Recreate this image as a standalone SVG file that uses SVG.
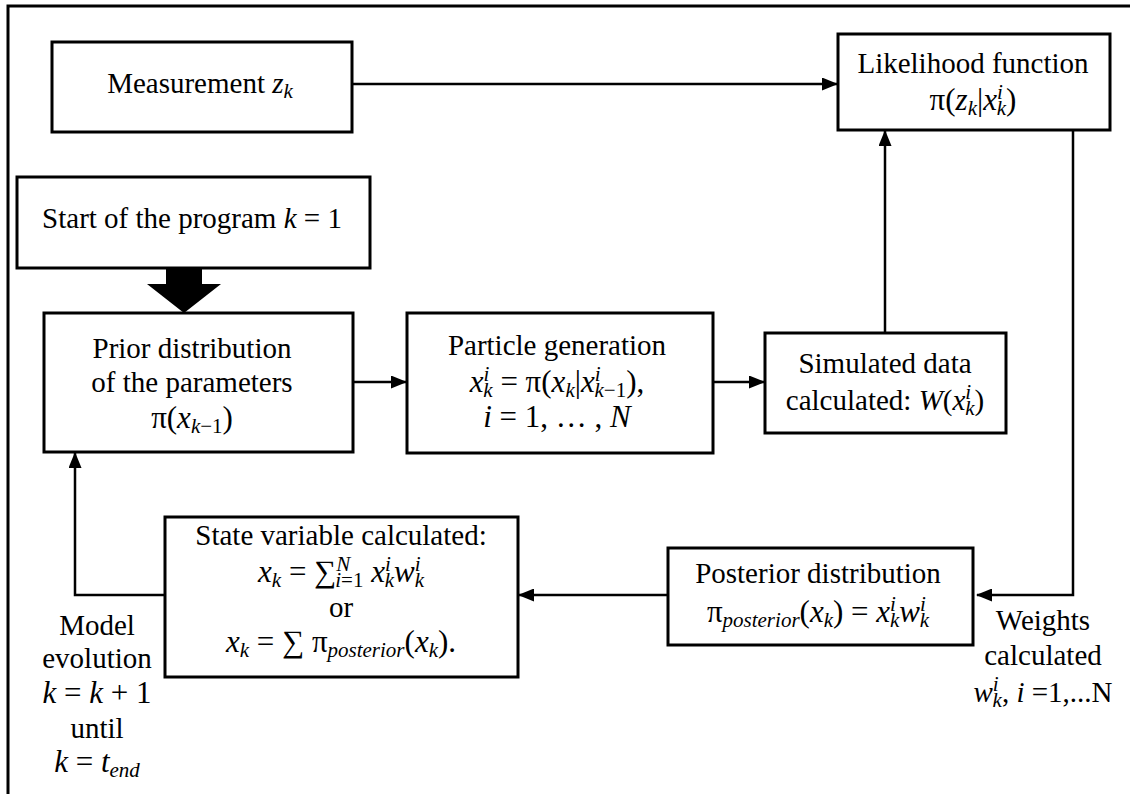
<svg xmlns="http://www.w3.org/2000/svg" width="1130" height="794" viewBox="0 0 1130 794">
<defs>
<style>
.box{fill:#fff;stroke:#000;stroke-width:3}
.ln{fill:none;stroke:#000;stroke-width:2.5}
text{font-family:"Liberation Serif","Times New Roman",serif;font-size:29px;fill:#000;text-anchor:middle}
text.eq{font-size:31px}
.m{font-style:italic}
.s{font-style:italic;font-size:21px}
.sn{font-size:21px}
</style>
<marker id="ah" markerWidth="16" markerHeight="13" refX="15" refY="6.5" orient="auto" markerUnits="userSpaceOnUse">
<path d="M0,0 L16,6.5 L0,13 Z" fill="#000"/>
</marker>
</defs>
<rect width="1130" height="794" fill="#fff"/>
<path d="M8,794 V6 H1130" fill="none" stroke="#000" stroke-width="3"/>

<g id="connectors">
<path class="ln" d="M352,84 H837" marker-end="url(#ah)"/>
<path class="ln" d="M885,333 V131" marker-end="url(#ah)"/>
<path class="ln" d="M1073,131 V595 H977" marker-end="url(#ah)"/>
<path class="ln" d="M668,595 H519" marker-end="url(#ah)"/>
<path class="ln" d="M165,595 H75 V453" marker-end="url(#ah)"/>
<path class="ln" d="M353,382 H406" marker-end="url(#ah)"/>
<path class="ln" d="M713,382 H764" marker-end="url(#ah)"/>
<polygon points="166,268 202,268 202,284 221,284 184,313 147,284 166,284" fill="#000"/>
</g>

<g id="measurement">
<rect class="box" x="52" y="42" width="300" height="90"/>
<text x="200" y="93">Measurement <tspan class="m">z</tspan><tspan class="s" dy="5">k</tspan></text>
</g>

<g id="likelihood">
<rect class="box" x="838" y="34" width="272" height="96"/>
<text x="973" y="73">Likelihood function</text>
<text class="eq" x="973" y="110">π(<tspan class="m">z</tspan><tspan class="s" dy="5">k</tspan><tspan dy="-5">|</tspan><tspan class="m">x</tspan><tspan class="s" dy="-11">i</tspan><tspan class="s" dx="-6" dy="16">k</tspan><tspan dy="-5">)</tspan></text>
</g>

<g id="start">
<rect class="box" x="17" y="177" width="353" height="91"/>
<text x="192" y="228">Start of the program <tspan class="m">k</tspan> = 1</text>
</g>

<g id="prior">
<rect class="box" x="44" y="313" width="309" height="139"/>
<text x="192" y="358">Prior distribution</text>
<text x="192" y="392">of the parameters</text>
<text class="eq" x="192" y="428">π(<tspan class="m">x</tspan><tspan class="s" dy="5">k</tspan><tspan class="sn">−1</tspan><tspan dy="-5">)</tspan></text>
</g>

<g id="particle">
<rect class="box" x="407" y="313" width="306" height="140"/>
<text x="557" y="355">Particle generation</text>
<text class="eq" x="557" y="392"><tspan class="m">x</tspan><tspan class="s" dy="-11">i</tspan><tspan class="s" dx="-6" dy="16">k</tspan><tspan dy="-5"> = π(</tspan><tspan class="m">x</tspan><tspan class="s" dy="5">k</tspan><tspan dy="-5">|</tspan><tspan class="m">x</tspan><tspan class="s" dy="-11">i</tspan><tspan class="s" dx="-6" dy="16">k</tspan><tspan class="sn">−1</tspan><tspan dy="-5">),</tspan></text>
<text class="eq" x="557" y="427"><tspan class="m">i</tspan> = 1, … , <tspan class="m">N</tspan></text>
</g>

<g id="simulated">
<rect class="box" x="765" y="333" width="241" height="100"/>
<text x="885" y="373">Simulated data</text>
<text x="885" y="410">calculated: <tspan class="m">W</tspan>(<tspan class="m">x</tspan><tspan class="s" dy="-11">i</tspan><tspan class="s" dx="-6" dy="16">k</tspan><tspan dy="-5">)</tspan></text>
</g>

<g id="posterior">
<rect class="box" x="668" y="548" width="305" height="97"/>
<text x="818" y="583">Posterior distribution</text>
<text class="eq" x="818" y="622">π<tspan class="s" dy="5">posterior</tspan><tspan dy="-5">(</tspan><tspan class="m">x</tspan><tspan class="s" dy="5">k</tspan><tspan dy="-5">) = </tspan><tspan class="m">x</tspan><tspan class="s" dy="-11">i</tspan><tspan class="s" dx="-6" dy="16">k</tspan><tspan class="m" dy="-5">w</tspan><tspan class="s" dy="-11">i</tspan><tspan class="s" dx="-6" dy="16">k</tspan></text>
</g>

<g id="state">
<rect class="box" x="165" y="517" width="353" height="160"/>
<text x="341" y="545">State variable calculated:</text>
<text class="eq" x="341" y="582"><tspan class="m">x</tspan><tspan class="s" dy="5">k</tspan><tspan dy="-5"> = ∑</tspan><tspan class="s" dy="-11">N</tspan><tspan class="s" dx="-15" dy="16">i</tspan><tspan class="sn">=1</tspan><tspan class="m" dy="-5"> x</tspan><tspan class="s" dy="-11">i</tspan><tspan class="s" dx="-6" dy="16">k</tspan><tspan class="m" dy="-5">w</tspan><tspan class="s" dy="-11">i</tspan><tspan class="s" dx="-6" dy="16">k</tspan></text>
<text x="341" y="617">or</text>
<text class="eq" x="341" y="652"><tspan class="m">x</tspan><tspan class="s" dy="5">k</tspan><tspan dy="-5"> = ∑ π</tspan><tspan class="s" dy="5">posterior</tspan><tspan dy="-5">(</tspan><tspan class="m">x</tspan><tspan class="s" dy="5">k</tspan><tspan dy="-5">).</tspan></text>
</g>

<g id="model-evolution">
<text x="97" y="635">Model</text>
<text x="97" y="668">evolution</text>
<text class="eq" x="97" y="703"><tspan class="m">k</tspan> = <tspan class="m">k</tspan> + 1</text>
<text x="97" y="738">until</text>
<text class="eq" x="97" y="772"><tspan class="m">k</tspan> = <tspan class="m">t</tspan><tspan class="s" dy="5">end</tspan></text>
</g>

<g id="weights">
<text x="1043" y="630">Weights</text>
<text x="1043" y="665">calculated</text>
<text x="1043" y="702"><tspan class="m">w</tspan><tspan class="s" dy="-11">i</tspan><tspan class="s" dx="-6" dy="16">k</tspan><tspan dy="-5">,  </tspan><tspan class="m">i</tspan> =1,...N</text>
</g>
</svg>
